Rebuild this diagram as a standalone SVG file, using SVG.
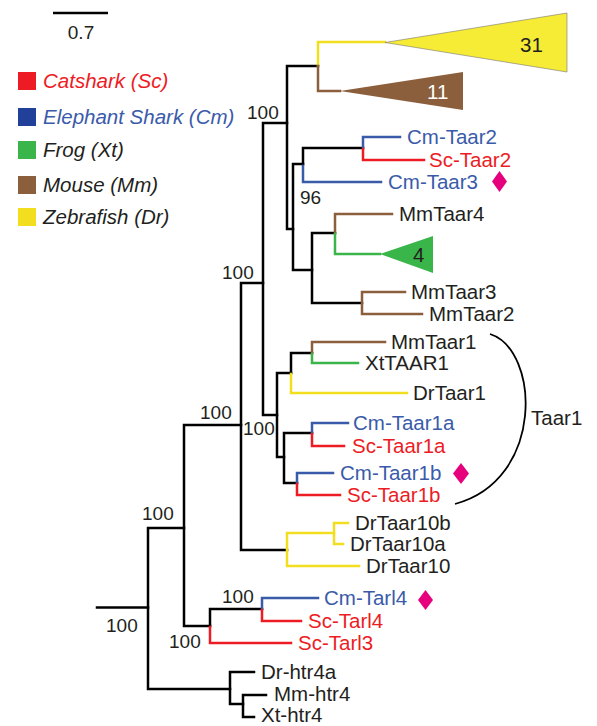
<svg xmlns="http://www.w3.org/2000/svg" width="597" height="726" viewBox="0 0 597 726">
<style>
.t{font-family:"Liberation Sans",Arial,sans-serif;font-size:20.5px;fill:#231F20}
.n{font-family:"Liberation Sans",Arial,sans-serif;font-size:19px;fill:#231F20}
.lg{font-family:"Liberation Sans",Arial,sans-serif;font-size:20.5px;font-style:italic;fill:#231F20}
.b{fill:#3A5BA9}.r{fill:#ED1C24}
.k,.cb,.cr,.cn,.cg,.cy{fill:none;stroke-width:2.5;stroke-linecap:square;stroke-linejoin:miter}
.k{stroke:#000}.cb{stroke:#3A5BA9}.cr{stroke:#ED1C24}.cn{stroke:#8B5E3C}.cg{stroke:#39B54A}.cy{stroke:#F2DE1F}
.dm{fill:#E6007E}
</style>
<rect width="597" height="726" fill="#fff"/>
<g id="scale">
<line x1="53" y1="13" x2="108" y2="13" stroke="#000" stroke-width="2.5"/>
<text class="n" x="81" y="39" text-anchor="middle">0.7</text>
</g>
<g id="legend">
<rect x="18" y="72" width="18" height="18" fill="#ED1C24"/><text class="lg" x="43" y="88" style="fill:#ED1C24">Catshark (Sc)</text>
<rect x="18" y="108" width="18" height="18" fill="#21409A"/><text class="lg" x="43" y="124" style="fill:#3A5BA9">Elephant Shark (Cm)</text>
<rect x="18" y="141" width="18" height="18" fill="#39B54A"/><text class="lg" x="43" y="157">Frog (Xt)</text>
<rect x="18" y="176" width="18" height="18" fill="#8B5E3C"/><text class="lg" x="43" y="192">Mouse (Mm)</text>
<rect x="18" y="208" width="18" height="18" fill="#F2DE1F"/><text class="lg" x="43" y="224">Zebrafish (Dr)</text>
</g>
<g id="connectors">
<path class="k" d="M97 607.5H148"/>
<path class="k" d="M148 607.5V528H184M148 607.5V689H230"/>
<path class="k" d="M184 528V425H241M184 528V626H210"/>
<path class="k" d="M241 425V283H263M241 425V550H287"/>
<path class="k" d="M263 283V123H287M263 283V415H277"/>
<path class="k" d="M287 123V66H318M287 123V229H293"/>
<path class="cy" d="M318 66V42H385"/>
<path class="cn" d="M318 66V91H340"/>
<path class="k" d="M293 229V164H303M293 229V270H312"/>
<path class="k" d="M303 164V148H363"/>
<path class="cb" d="M303 166V182H381"/>
<path class="cb" d="M363 148V137H400"/>
<path class="cr" d="M363 149V160H424"/>
<path class="k" d="M312 270V233H335M312 270V303H362"/>
<path class="cn" d="M335 233V214H392"/>
<path class="cg" d="M335 234V254H380"/>
<path class="cn" d="M362 303V292H405M362 303V314H422"/>
<path class="k" d="M277 415V373H291M277 415V457H284"/>
<path class="k" d="M291 373V353H312"/>
<path class="cy" d="M291 374V393H407"/>
<path class="cn" d="M312 353V342H385"/>
<path class="cg" d="M312 354V363H358"/>
<path class="k" d="M284 457V433H312M284 457V483H297"/>
<path class="cb" d="M312 433V423H348"/>
<path class="cr" d="M312 434V446H344"/>
<path class="cb" d="M297 483V473H333"/>
<path class="cr" d="M297 484V495H340"/>
<path class="cy" d="M287 550V533H334M287 550V566H359"/>
<path class="cy" d="M334 533V523H348M334 533V544H343"/>
<path class="k" d="M210 626V609H262"/>
<path class="cr" d="M210 627V643H291"/>
<path class="cb" d="M262 609V598H318"/>
<path class="cr" d="M262 610V621H301"/>
<path class="k" d="M230 689V672H254M230 689V704H243"/>
<path class="k" d="M243 704V695H266M243 704V717H254"/>
</g>
<g id="clade-zebrafish">
<polygon points="385,42.5 567,13 567,72" fill="#F6EB35" stroke="#777" stroke-width="0.6"/>
<text class="t" x="520" y="52">31</text>
</g>
<g id="clade-mouse">
<polygon points="340,91 463,72 463,110" fill="#8B5E3C"/>
<text class="t" x="427" y="99" style="fill:#fff">11</text>
</g>
<g id="clade-frog">
<polygon points="380,254 433,236 433,273" fill="#39B54A"/>
<text class="t" x="413" y="262">4</text>
</g>
<g id="support">
<text class="n" x="247" y="119">100</text>
<text class="n" x="300" y="204">96</text>
<text class="n" x="222" y="279">100</text>
<text class="n" x="200" y="419">100</text>
<text class="n" x="243" y="435">100</text>
<text class="n" x="142" y="520">100</text>
<text class="n" x="222" y="603">100</text>
<text class="n" x="106" y="632">100</text>
<text class="n" x="169" y="648">100</text>
</g>
<g id="leaves">
<text class="t b" x="407" y="144">Cm-Taar2</text>
<text class="t r" x="429" y="167">Sc-Taar2</text>
<text class="t b" x="388" y="189">Cm-Taar3</text>
<text class="t" x="399" y="221">MmTaar4</text>
<text class="t" x="411" y="299">MmTaar3</text>
<text class="t" x="429" y="321">MmTaar2</text>
<text class="t" x="391" y="349">MmTaar1</text>
<text class="t" x="365" y="370">XtTAAR1</text>
<text class="t" x="413" y="400">DrTaar1</text>
<text class="t b" x="353" y="430">Cm-Taar1a</text>
<text class="t r" x="352" y="453">Sc-Taar1a</text>
<text class="t b" x="340" y="480">Cm-Taar1b</text>
<text class="t r" x="347" y="502">Sc-Taar1b</text>
<text class="t" x="355" y="530">DrTaar10b</text>
<text class="t" x="350" y="551">DrTaar10a</text>
<text class="t" x="366" y="573">DrTaar10</text>
<text class="t b" x="324" y="605">Cm-Tarl4</text>
<text class="t r" x="308" y="628">Sc-Tarl4</text>
<text class="t r" x="298" y="650">Sc-Tarl3</text>
<text class="t" x="261" y="679">Dr-htr4a</text>
<text class="t" x="274" y="701">Mm-htr4</text>
<text class="t" x="261" y="722">Xt-htr4</text>
</g>
<g id="markers">
<polygon class="dm" points="499.5,171 507,181.5 499.5,192 492,181.5"/>
<polygon class="dm" points="461,463 469,473.5 461,484 453,473.5"/>
<polygon class="dm" points="425.5,590 433,600 425.5,610 418,600"/>
</g>
<g id="taar1-bracket">
<path d="M490 334C540 350 545 480 455 504" fill="none" stroke="#000" stroke-width="1.8"/>
<text class="t" x="531" y="425">Taar1</text>
</g>
</svg>
